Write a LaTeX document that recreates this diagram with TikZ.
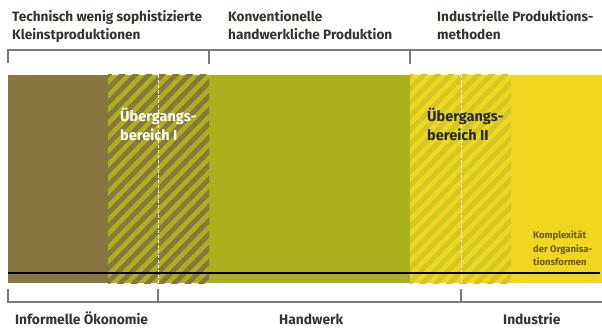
\documentclass[tikz,border=0pt]{standalone}
\usepackage{fontspec}
\setmainfont{Fira Sans}
\definecolor{cbrown}{HTML}{87773F}
\definecolor{cgreen}{HTML}{ABB11D}
\definecolor{cyellow}{HTML}{F0D61E}
\definecolor{cstripeII}{HTML}{D2C824}
\definecolor{cbracket}{HTML}{7A7A7A}
\definecolor{ctext}{HTML}{35352C}
\definecolor{ckomp}{HTML}{6A5A14}
\tikzset{
  toplabel/.style={anchor=north west,inner sep=0pt,align=left,text=ctext,
    font=\bfseries\fontsize{13.6}{18}\selectfont},
  botlabel/.style={anchor=base west,inner sep=0pt,text=ctext,
    font=\bfseries\fontsize{13.8}{14}\selectfont},
  bracket/.style={draw=cbracket,line width=1.1pt},
  divider/.style={draw=white,line width=0.6pt,dash pattern=on 3pt off 2pt},
  uelabel/.style={anchor=north west,inner sep=0pt,align=left,
    font=\bfseries\fontsize{14.5}{19}\selectfont},
}
\begin{document}
\begin{tikzpicture}[x=1pt,y=-1pt]
\useasboundingbox (0,0) rectangle (602,334);
\fill[white] (0,0) rectangle (602,334);
% band
\fill[cbrown] (8,75) rectangle (108,283);
\fill[cgreen] (108,75) rectangle (410,283);
\fill[cyellow] (410,75) rectangle (602,283);
% hatch I
\begin{scope}
\clip (108,75) rectangle (209,283);
\foreach \i in {0,13.5,...,340}{
  \draw[cbrown,line width=4.8pt] (108-208+\i,283+5) -- (108+\i+5,75-5);
}
\end{scope}
% hatch II
\begin{scope}
\clip (410,75) rectangle (511,283);
\foreach \i in {0,13.5,...,340}{
  \draw[cstripeII,line width=4.8pt] (410-208+\i,283+5) -- (410+\i+5,75-5);
}
\end{scope}
\coordinate (d1t) at (158,75); \coordinate (d1b) at (158,283);
\coordinate (d2t) at (461,75); \coordinate (d2b) at (461,283);
\draw[divider] (d1t) -- (d1b);
\draw[divider] (d2t) -- (d2b);
% axis line
\coordinate (axL) at (8,273); \coordinate (axR) at (600,273);
\draw[black,line width=1.5pt] (axL) -- (axR);
% top bracket
\coordinate (t0) at (8,63); \coordinate (t0a) at (8,50);
\coordinate (t1) at (209,64); \coordinate (t1a) at (209,50);
\coordinate (t2) at (410,64); \coordinate (t2a) at (410,50);
\coordinate (tR) at (602,50);
\draw[bracket] (t0) -- (t0a) -- (tR);
\draw[bracket] (t1) -- (t1a);
\draw[bracket] (t2) -- (t2a);
% bottom bracket
\coordinate (b0) at (8,289); \coordinate (b0a) at (8,302);
\coordinate (b1) at (158,289); \coordinate (b1a) at (158,302);
\coordinate (b2) at (461,289); \coordinate (b2a) at (461,302);
\coordinate (bR) at (602,302);
\draw[bracket] (b0) -- (b0a) -- (bR);
\draw[bracket] (b1) -- (b1a);
\draw[bracket] (b2) -- (b2a);
% top labels
\node[toplabel] (lt1) at (12,10.5) {Technisch wenig sophistizierte\\Kleinstproduktionen};
\node[toplabel] (lt2) at (228,10.5) {Konventionelle\\handwerkliche Produktion};
\node[toplabel] (lt3) at (437,10.5) {Industrielle Produktions-\\methoden};
% bottom labels
\node[botlabel] (lb1) at (15,324) {Informelle Ökonomie};
\node[botlabel] (lb2) at (279,324) {Handwerk};
\node[botlabel] (lb3) at (503,324) {Industrie};
% transition labels
\node[uelabel,text=white] (u1) at (120,108) {Übergangs-\\bereich I};
\node[uelabel,text=black!85] (u2) at (427,108) {Übergangs-\\bereich II};
% complexity
\node[anchor=north west,inner sep=0pt,align=left,text=ckomp,
  font=\bfseries\fontsize{9.5}{13.5}\selectfont] (kx) at (533,231)
  {Komplexität\\der Organisa-\\tionsformen};
\end{tikzpicture}
\end{document}
